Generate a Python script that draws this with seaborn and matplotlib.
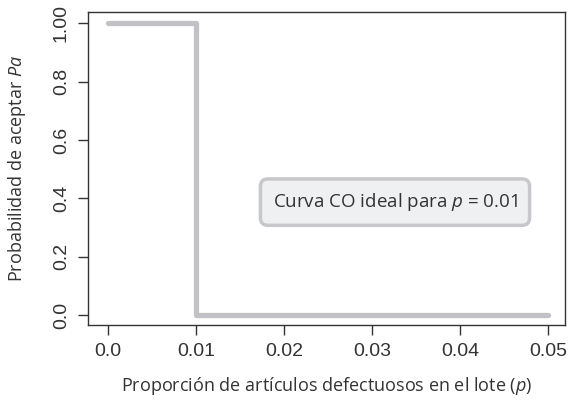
import matplotlib
matplotlib.use("Agg")
import matplotlib.pyplot as plt
import seaborn as sns
import pandas as pd

# ideal OC curve for p = 0.01
p_values = [0.0, 0.01, 0.05]
pa_values = [1.0, 0.0, 0.0]
x_ticks = [0.0, 0.01, 0.02, 0.03, 0.04, 0.05]
x_labels = ["0.0", "0.01", "0.02", "0.03", "0.04", "0.05"]
y_ticks = [0.0, 0.2, 0.4, 0.6, 0.8, 1.0]
y_labels = ["0.0", "0.2", "0.4", "0.6", "0.8", "1.00"]

sns.set_style("white")
plt.rcParams['font.family'] = ['Open Sans', 'DejaVu Sans']
plt.rcParams['mathtext.fontset'] = 'custom'
plt.rcParams['mathtext.it'] = 'Open Sans:italic'
plt.rcParams['mathtext.rm'] = 'Open Sans'

df = pd.DataFrame({'p': p_values, 'pa': pa_values})

fig = plt.figure(figsize=(5.68, 4.04), dpi=100)
ax = fig.add_axes([0.155, 0.1955, 0.84, 0.7745])

sns.lineplot(data=df, x='p', y='pa', ax=ax, sort=False, estimator=None,
             drawstyle='steps-post', color='#c2c2c6', linewidth=3.8)

ax.set_xlim(-0.00227, 0.05193)
ax.set_ylim(-0.034, 1.038)
ax.set_xticks(x_ticks)
ax.set_xticklabels(x_labels, family='Liberation Sans')
ax.set_yticks(y_ticks)
ax.set_yticklabels(y_labels, rotation=90, va='center', family='Liberation Sans')
ax.tick_params(axis='both', direction='out', length=7, width=1, color='#333333',
               labelsize=14, labelcolor='#333333', pad=6, bottom=True, left=True)
for s in ax.spines.values():
    s.set_color('#333333')
    s.set_linewidth(1)

ax.set_xlabel(r"Proporción de artículos defectuosos en el lote ($\mathit{p}$)",
              fontsize=13, color='#333333', labelpad=11)
ax.set_ylabel(r"Probabilidad de aceptar $\mathit{Pa}$", fontsize=13,
              color='#333333', labelpad=18)

ax.text(0.0326, 0.387, r"Curva CO ideal para $\mathit{p}$ = 0.01", fontsize=13.5,
        color='#333333', ha='center', va='center',
        bbox=dict(boxstyle='round,pad=0.65,rounding_size=0.4', fc='#eff0f2',
                  ec='#c8c8cc', lw=2.5))

fig.savefig('out.png', dpi=100)
